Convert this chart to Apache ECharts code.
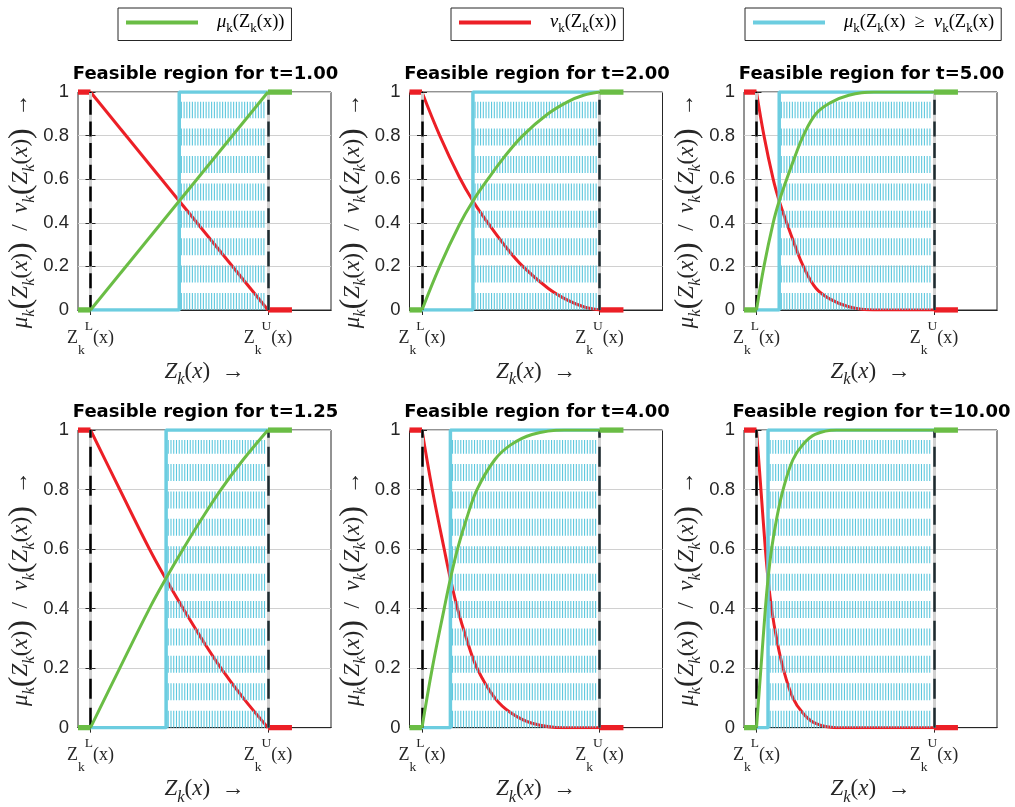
<!DOCTYPE html>
<html>
<head>
<meta charset="utf-8">
<script src="https://cdn.jsdelivr.net/npm/echarts@6/dist/echarts.min.js"></script>
<style>
  html, body { margin: 0; padding: 0; background: #fff; }
  #app { width: 1015px; height: 807px; }
</style>
</head>
<body>
<div id="app"></div>
<script>
// t value of each panel (row by row)
const tLabels = ['1.00', '2.00', '5.00', '1.25', '4.00', '10.00'];
// x axis: Z_k^L(x) at 0, Z_k^U(x) at 1
const xTickValues = [0, 1];
// where mu = nu (left edge of the feasible region)
const crossPoints = [0.5, 0.287, 0.128, 0.426, 0.16, 0.065];

// mu_k(Z_k(x)), [Z, value]
const mu1 = [[0, 0], [1, 1]];
const mu2 = [[0, 0], [0.1, 0.2], [0.21, 0.39], [0.287, 0.5], [0.371, 0.6], [0.46, 0.698], [0.568, 0.8], [0.71, 0.9], [0.82, 0.955], [0.91, 0.985], [1, 1]];
const mu3 = [[0, 0], [0.042, 0.2], [0.094, 0.4], [0.128, 0.5], [0.17, 0.6], [0.215, 0.7], [0.264, 0.8], [0.335, 0.9], [0.415, 0.95], [0.52, 0.985], [0.66, 1], [1, 1]];
const mu4 = [[0, 0], [0.165, 0.2], [0.332, 0.4], [0.424, 0.5], [0.522, 0.6], [0.625, 0.7], [0.735, 0.8], [0.86, 0.9], [1, 1]];
const mu5 = [[0, 0], [0.058, 0.2], [0.125, 0.4], [0.16, 0.5], [0.2, 0.6], [0.25, 0.7], [0.31, 0.8], [0.41, 0.9], [0.5, 0.95], [0.62, 0.985], [0.8, 1], [1, 1]];
const mu6 = [[0, 0], [0.025, 0.2], [0.05, 0.4], [0.065, 0.5], [0.085, 0.6], [0.113, 0.7], [0.15, 0.8], [0.205, 0.9], [0.26, 0.95], [0.33, 0.985], [0.45, 1], [1, 1]];

// nu_k(Z_k(x))
const nu1 = [[0, 1], [1, 0]];
const nu2 = [[0, 1], [0.1, 0.8], [0.21, 0.61], [0.287, 0.5], [0.371, 0.4], [0.46, 0.302], [0.568, 0.2], [0.71, 0.1], [0.82, 0.045], [0.91, 0.015], [1, 0]];
const nu3 = [[0, 1], [0.042, 0.8], [0.094, 0.6], [0.128, 0.5], [0.17, 0.4], [0.215, 0.3], [0.264, 0.2], [0.335, 0.1], [0.415, 0.05], [0.52, 0.015], [0.66, 0], [1, 0]];
const nu4 = [[0, 1], [0.165, 0.8], [0.332, 0.6], [0.424, 0.5], [0.522, 0.4], [0.625, 0.3], [0.735, 0.2], [0.86, 0.1], [1, 0]];
const nu5 = [[0, 1], [0.058, 0.8], [0.125, 0.6], [0.16, 0.5], [0.2, 0.4], [0.25, 0.3], [0.31, 0.2], [0.41, 0.1], [0.5, 0.05], [0.62, 0.015], [0.8, 0], [1, 0]];
const nu6 = [[0, 1], [0.025, 0.8], [0.05, 0.6], [0.065, 0.5], [0.085, 0.4], [0.113, 0.3], [0.15, 0.2], [0.205, 0.1], [0.26, 0.05], [0.33, 0.015], [0.45, 0], [1, 0]];

const muList = [mu1, mu2, mu3, mu4, mu5, mu6];
const nuList = [nu1, nu2, nu3, nu4, nu5, nu6];

const GREEN = '#6abd45';
const RED = '#ec1f26';
const CYAN = '#6ccde0';
const HATCH = '#5ec8de';
const INK = '#262626';
const SANS = 'Liberation Sans';
const SERIF = 'Liberation Serif';

const colLeft = [78, 409.5, 744];
const rowTop = [92, 430];
const rowH = [218, 302];
const hatchTop = [0.955, 0.966];
const vDash = [[15, 6.7], [20, 9]];
const plotW = 253;
const X_MIN = -0.0704, X_MAX = 1.355, FLAT_END = 1.135;

function mathRich(size) {
  return {
    rm: { fontFamily: SERIF, fontSize: size, color: INK, lineHeight: size * 1.45 },
    it: { fontFamily: SERIF, fontSize: size, fontStyle: 'italic', color: INK, lineHeight: size * 1.45 },
    big: { fontFamily: SERIF, fontSize: size * 1.4, color: INK, lineHeight: size * 1.45 },
    sub: { fontFamily: SERIF, fontSize: size * 0.7, color: INK, verticalAlign: 'bottom', lineHeight: size * 1.0 },
    subi: { fontFamily: SERIF, fontSize: size * 0.72, fontStyle: 'italic', color: INK, verticalAlign: 'bottom', lineHeight: size * 1.0 }
  };
}

const tickRich = {
  rm: { fontFamily: SERIF, fontSize: 18, color: INK, lineHeight: 38 },
  sub: { fontFamily: SERIF, fontSize: 13.5, color: INK, verticalAlign: 'bottom', lineHeight: 22 },
  sup: { fontFamily: SERIF, fontSize: 13.5, color: INK, verticalAlign: 'top', lineHeight: 13 }
};

const grid = [], xAxis = [], yAxis = [], series = [], title = [];

tLabels.forEach((t, i) => {
  const r = Math.floor(i / 3), c = i % 3;
  const cross = crossPoints[i];
  grid.push({
    left: colLeft[c], top: rowTop[r], width: plotW, height: rowH[r],
    show: true, borderColor: INK, borderWidth: 1
  });
  title.push({
    text: 'Feasible region for t=' + t,
    left: colLeft[c] + plotW / 2 + 1, top: rowTop[r] - 27, textAlign: 'center',
    padding: 0,
    textStyle: { fontFamily: 'DejaVu Sans', fontWeight: 'bold', fontSize: 18, color: '#000' }
  });

  // bottom and top x axes
  xAxis.push({
    type: 'value', gridIndex: i, min: X_MIN, max: X_MAX,
    axisLine: { show: true, lineStyle: { color: INK } },
    axisTick: { show: true, inside: true, length: 5, customValues: xTickValues, lineStyle: { color: INK } },
    axisLabel: {
      customValues: xTickValues, margin: 9,
      formatter: v => v === 0 ? '{rm|Z}{sub|k}{sup|L}{rm|(x)}' : '{rm|Z}{sub|k}{sup|U}{rm|(x)}',
      rich: tickRich
    },
    splitLine: { show: false },
    name: '{it|Z}{subi|k}{rm|(}{it|x}{rm|)  →}',
    nameLocation: 'middle', nameGap: 45,
    nameTextStyle: { rich: mathRich(23) }
  });
  xAxis.push({
    type: 'value', gridIndex: i, min: X_MIN, max: X_MAX, position: 'top',
    axisLine: { show: true, lineStyle: { color: INK } },
    axisTick: { show: true, inside: true, length: 5, customValues: xTickValues, lineStyle: { color: INK } },
    axisLabel: { show: false }, splitLine: { show: false }
  });
  // left and right y axes
  yAxis.push({
    type: 'value', gridIndex: i, min: 0, max: 1, interval: 0.2,
    axisLine: { show: true, lineStyle: { color: INK } },
    axisTick: { show: true, inside: true, length: 5, lineStyle: { color: INK } },
    axisLabel: { fontFamily: SANS, fontSize: 18.5, color: INK, margin: 9 },
    splitLine: { show: true, lineStyle: { color: '#d0d0d0', width: 1 } },
    name: '{it|μ}{subi|k}{big|(}{it|Z}{subi|k}{rm|(}{it|x}{rm|)}{big|)}{rm|  /  }{it|ν}{subi|k}{big|(}{it|Z}{subi|k}{rm|(}{it|x}{rm|)}{big|)}{rm|  →}',
    nameLocation: 'middle', nameRotate: 90, nameGap: 40,
    nameTextStyle: { rich: mathRich(23), padding: [0, 20, 0, 0] }
  });
  yAxis.push({
    type: 'value', gridIndex: i, min: 0, max: 1, interval: 0.2, position: 'right',
    axisLine: { show: true, lineStyle: { color: INK } },
    axisTick: { show: true, inside: true, length: 5, lineStyle: { color: INK } },
    axisLabel: { show: false }, splitLine: { show: false }
  });

  const xi = 2 * i, yi = 2 * i;

  // vertical grid lines and dashed bounds at Z_L, Z_U
  series.push({
    type: 'line', xAxisIndex: xi, yAxisIndex: yi, data: [], z: 1, silent: true,
    markLine: {
      silent: true, symbol: 'none', label: { show: false }, animation: false,
      data: [
        { xAxis: 0, lineStyle: { color: '#d0d0d0', width: 3, type: 'solid' } },
        { xAxis: 1, lineStyle: { color: '#d0d0d0', width: 3, type: 'solid' } },
        { xAxis: 0, lineStyle: { color: '#000', width: 2.5, type: vDash[r] } },
        { xAxis: 1, lineStyle: { color: '#1e2b30', width: 2.5, type: vDash[r] } }
      ]
    }
  });

  // nu curve (below hatch)
  series.push({
    name: 'nu', type: 'line', xAxisIndex: xi, yAxisIndex: yi, data: nuList[i],
    smooth: 0.4, symbol: 'none', z: 2, color: RED, lineStyle: { color: RED, width: 3 }
  });
  series.push({
    name: 'nu-lo', type: 'line', xAxisIndex: xi, yAxisIndex: yi, data: [[X_MIN, 1], [0, 1]],
    symbol: 'none', z: 2, lineStyle: { color: RED, width: 5.5 }
  });
  series.push({
    name: 'nu-hi', type: 'line', xAxisIndex: xi, yAxisIndex: yi, data: [[1, 0], [FLAT_END, 0]],
    symbol: 'none', z: 2, lineStyle: { color: RED, width: 5.5 }
  });

  // hatch of the feasible region
  const hatchXs = [];
  for (let x = cross + 0.012; x < 0.99; x += 0.0155) hatchXs.push([x, 0]);
  series.push({
    type: 'custom', xAxisIndex: xi, yAxisIndex: yi, z: 3, silent: true,
    data: hatchXs, encode: { x: 0, y: 1 },
    renderItem: (params, api) => {
      const x = api.value(0);
      const a = api.coord([x, 0]), b = api.coord([x, hatchTop[r]]);
      return {
        type: 'line',
        shape: { x1: a[0], y1: a[1], x2: b[0], y2: b[1] },
        style: { stroke: HATCH, lineWidth: 1.1, lineDash: [17, 10.4] }
      };
    }
  });

  // indicator mu >= nu
  series.push({
    name: 'ind', type: 'line', xAxisIndex: xi, yAxisIndex: yi,
    data: [[0, 0], [cross, 0], [cross, 1], [1, 1]],
    symbol: 'none', z: 4, color: CYAN, lineStyle: { color: CYAN, width: 3.5 }
  });

  // mu curve (on top)
  series.push({
    name: 'mu', type: 'line', xAxisIndex: xi, yAxisIndex: yi, data: muList[i],
    smooth: 0.4, symbol: 'none', z: 5, color: GREEN, lineStyle: { color: GREEN, width: 3 }
  });
  series.push({
    name: 'mu-lo', type: 'line', xAxisIndex: xi, yAxisIndex: yi, data: [[X_MIN, 0], [0, 0]],
    symbol: 'none', z: 5, lineStyle: { color: GREEN, width: 5.5 }
  });
  series.push({
    name: 'mu-hi', type: 'line', xAxisIndex: xi, yAxisIndex: yi, data: [[1, 1], [FLAT_END, 1]],
    symbol: 'none', z: 5, lineStyle: { color: GREEN, width: 5.5 }
  });
});

const legendRich = {
  rm: { fontFamily: SERIF, fontSize: 18.5, color: '#000', lineHeight: 26 },
  it: { fontFamily: SERIF, fontSize: 18.5, fontStyle: 'italic', color: '#000', lineHeight: 26 },
  sub: { fontFamily: SERIF, fontSize: 13, color: '#000', verticalAlign: 'bottom', lineHeight: 18 },
  gap: { width: 14 }
};
const legendText = {
  mu: '{gap|}{it|μ}{sub|k}{rm|(Z}{sub|k}{rm|(x))}',
  nu: '{gap|}{it|ν}{sub|k}{rm|(Z}{sub|k}{rm|(x))}',
  ind: '{gap|}{it|μ}{sub|k}{rm|(Z}{sub|k}{rm|(x)  ≥  }{it|ν}{sub|k}{rm|(Z}{sub|k}{rm|(x)}'
};
const legendBase = {
  top: 8, orient: 'horizontal', icon: 'rect', itemWidth: 72, itemHeight: 4,
  borderColor: INK, borderWidth: 1, padding: [5, 7, 5, 8], itemGap: 0,
  backgroundColor: '#fff',
  formatter: name => legendText[name],
  textStyle: { rich: legendRich }
};

const option = {
  animation: false,
  backgroundColor: '#fff',
  title: title,
  legend: [
    Object.assign({}, legendBase, { data: ['mu'], left: 118 }),
    Object.assign({}, legendBase, { data: ['nu'], left: 451 }),
    Object.assign({}, legendBase, { data: ['ind'], left: 745 })
  ],
  grid: grid,
  xAxis: xAxis,
  yAxis: yAxis,
  series: series
};

const chart = echarts.init(document.getElementById('app'));
chart.setOption(option);
</script>
</body>
</html>
